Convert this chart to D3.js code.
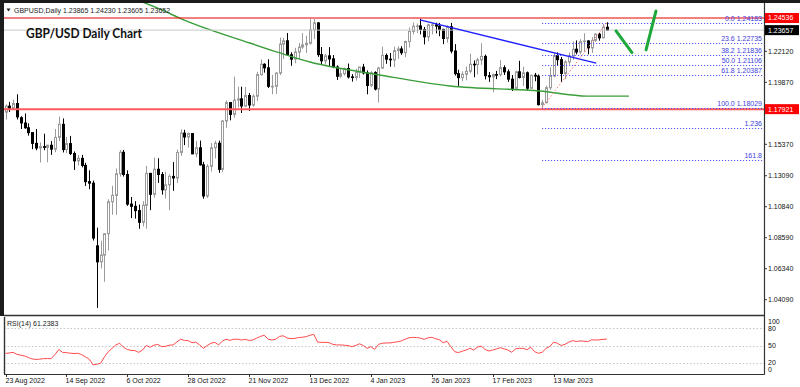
<!DOCTYPE html>
<html>
<head>
<meta charset="utf-8">
<script src="https://cdn.jsdelivr.net/npm/d3@7"></script>
<style>
  body { margin: 0; background: #fff; }
  svg { display: block; font-family: "Liberation Sans", Arial, sans-serif; }
</style>
</head>
<body>
<svg id="chart" width="800" height="387"></svg>
<script>
// daily bars, 23 Aug 2022 .. 31 Mar 2023
var dates = [
'2022-08-23','2022-08-24','2022-08-25','2022-08-26','2022-08-29','2022-08-30','2022-08-31',
'2022-09-01','2022-09-02','2022-09-05','2022-09-06','2022-09-07','2022-09-08','2022-09-09','2022-09-12','2022-09-13','2022-09-14','2022-09-15','2022-09-16','2022-09-19','2022-09-20','2022-09-21','2022-09-22','2022-09-23','2022-09-26','2022-09-27','2022-09-28','2022-09-29','2022-09-30',
'2022-10-03','2022-10-04','2022-10-05','2022-10-06','2022-10-07','2022-10-10','2022-10-11','2022-10-12','2022-10-13','2022-10-14','2022-10-17','2022-10-18','2022-10-19','2022-10-20','2022-10-21','2022-10-24','2022-10-25','2022-10-26','2022-10-27','2022-10-28','2022-10-31',
'2022-11-01','2022-11-02','2022-11-03','2022-11-04','2022-11-07','2022-11-08','2022-11-09','2022-11-10','2022-11-11','2022-11-14','2022-11-15','2022-11-16','2022-11-17','2022-11-18','2022-11-21','2022-11-22','2022-11-23','2022-11-24','2022-11-25','2022-11-28','2022-11-29','2022-11-30',
'2022-12-01','2022-12-02','2022-12-05','2022-12-06','2022-12-07','2022-12-08','2022-12-09','2022-12-12','2022-12-13','2022-12-14','2022-12-15','2022-12-16','2022-12-19','2022-12-20','2022-12-21','2022-12-22','2022-12-23','2022-12-26','2022-12-27','2022-12-28','2022-12-29','2022-12-30',
'2023-01-02','2023-01-03','2023-01-04','2023-01-05','2023-01-06','2023-01-09','2023-01-10','2023-01-11','2023-01-12','2023-01-13','2023-01-16','2023-01-17','2023-01-18','2023-01-19','2023-01-20','2023-01-23','2023-01-24','2023-01-25','2023-01-26','2023-01-27','2023-01-30','2023-01-31',
'2023-02-01','2023-02-02','2023-02-03','2023-02-06','2023-02-07','2023-02-08','2023-02-09','2023-02-10','2023-02-13','2023-02-14','2023-02-15','2023-02-16','2023-02-17','2023-02-20','2023-02-21','2023-02-22','2023-02-23','2023-02-24','2023-02-27','2023-02-28',
'2023-03-01','2023-03-02','2023-03-03','2023-03-06','2023-03-07','2023-03-08','2023-03-09','2023-03-10','2023-03-13','2023-03-14','2023-03-15','2023-03-16','2023-03-17','2023-03-20','2023-03-21','2023-03-22','2023-03-23','2023-03-24','2023-03-27','2023-03-28','2023-03-29','2023-03-30','2023-03-31'
];

var opens = [
1.1770,1.1814,1.1799,1.1833,1.1730,1.1692,1.1657,1.1622,1.1544,1.1510,
1.1520,1.1515,1.1530,1.1502,1.1587,1.1682,1.1499,1.1542,1.1470,1.1417,
1.1435,1.1384,1.1266,1.1255,1.0800,1.0684,1.0733,1.0888,1.1120,1.1166,
1.1323,1.1479,1.1318,1.1103,1.1087,1.1056,1.0971,1.1094,1.1326,1.1174,
1.1356,1.1318,1.1207,1.1243,1.1304,1.1293,1.1478,1.1618,1.1590,1.1615,
1.1468,1.1512,1.1388,1.1162,1.1377,1.1512,1.1545,1.1355,1.1706,1.1840,
1.1754,1.1858,1.1867,1.1815,1.1891,1.1822,1.1886,1.2043,1.2118,1.2092,
1.1958,1.1958,1.2054,1.2264,1.2288,1.2187,1.2155,1.2207,1.2243,1.2259,
1.2270,1.2368,1.2418,1.2188,1.2143,1.2179,1.2157,1.2098,1.2031,1.2049,
1.2087,1.2026,1.2022,1.2060,1.2097,1.2055,1.1964,1.2057,1.1938,1.2090,
1.2182,1.2155,1.2150,1.2217,1.2229,1.2202,1.2283,1.2356,1.2394,1.2396,
1.2370,1.2317,1.2404,1.2404,1.2395,1.2371,1.2305,1.2390,1.2214,1.2050,
1.2021,1.2045,1.2067,1.2118,1.2116,1.2150,1.2175,1.2035,1.2027,1.2043,
1.2042,1.2093,1.2063,1.2010,1.1943,1.2063,1.2022,1.2056,1.1944,1.2038,
1.2032,1.1825,1.1839,1.1948,1.2033,1.2180,1.2151,1.2051,1.2135,1.2178,
1.2227,1.2207,1.2282,1.2287,1.2237,1.2291,1.2336,1.2310,1.23865
];
var highs = [
1.1827,1.1845,1.1861,1.1900,1.1741,1.1761,1.1689,1.1624,1.1648,1.1550,
1.1614,1.1534,1.1560,1.1648,1.1738,1.1725,1.1590,1.1598,1.1485,1.1460,
1.1460,1.1403,1.1348,1.1274,1.0932,1.0837,1.0889,1.1138,1.1236,1.1361,
1.1495,1.1496,1.1348,1.1155,1.1124,1.1100,1.1125,1.1380,1.1330,1.1440,
1.1436,1.1336,1.1338,1.1320,1.1408,1.1499,1.1646,1.1642,1.1622,1.1616,
1.1562,1.1564,1.1410,1.1392,1.1546,1.1563,1.1564,1.1713,1.1855,1.1840,
1.2028,1.1954,1.1955,1.1953,1.1910,1.1900,1.2062,1.2153,1.2125,1.2154,
1.2040,1.2060,1.2311,1.2310,1.2345,1.2205,1.2237,1.2272,1.2344,1.2325,
1.2445,1.2446,1.2424,1.2243,1.2193,1.2242,1.2185,1.2110,1.2086,1.2094,
1.2123,1.2046,1.2085,1.2100,1.2121,1.2073,1.2067,1.2067,1.2100,1.2245,
1.2196,1.2200,1.2245,1.2248,1.2249,1.2290,1.2385,1.2421,1.2412,1.2448,
1.2389,1.2412,1.2417,1.2420,1.2418,1.2375,1.2401,1.2418,1.2264,1.2078,
1.2067,1.2102,1.2194,1.2146,1.2165,1.2270,1.2188,1.2062,1.2050,1.2070,
1.2148,1.2110,1.2080,1.2040,1.2071,1.2143,1.2100,1.2065,1.2040,1.2055,
1.2044,1.1860,1.1962,1.2095,1.2203,1.2204,1.2171,1.2147,1.2203,1.2284,
1.2291,1.2300,1.2343,1.2293,1.2314,1.2344,1.2346,1.2410,1.24230
];
var lows = [
1.1717,1.1771,1.1787,1.1717,1.1648,1.1650,1.1600,1.1502,1.1494,1.1405,
1.1494,1.1407,1.1460,1.1480,1.1560,1.1478,1.1473,1.1458,1.1351,1.1383,
1.1370,1.1235,1.1211,1.0839,1.0350,1.0636,1.0539,1.0767,1.1026,1.1025,
1.1303,1.1303,1.1090,1.1002,1.0998,1.0924,1.0941,1.0924,1.1059,1.1150,
1.1257,1.1172,1.1145,1.1059,1.1199,1.1257,1.1453,1.1531,1.1513,1.1465,
1.1443,1.1383,1.1142,1.1148,1.1340,1.1435,1.1330,1.1335,1.1656,1.1711,
1.1730,1.1805,1.1764,1.1807,1.1779,1.1810,1.1850,1.2035,1.2057,1.1946,
1.1900,1.1902,1.2040,1.2156,1.2180,1.2107,1.2126,1.2157,1.2230,1.2200,
1.2260,1.2300,1.2172,1.2118,1.2115,1.2104,1.2090,1.2004,1.2018,1.2036,
1.2015,1.1992,1.2000,1.2019,1.2043,1.1900,1.1952,1.1928,1.1841,1.2083,
1.2121,1.2100,1.2098,1.2157,1.2186,1.2170,1.2240,1.2335,1.2345,1.2335,
1.2262,1.2284,1.2335,1.2342,1.2322,1.2264,1.2275,1.2197,1.2036,1.1961,
1.1995,1.2001,1.2052,1.2024,1.2044,1.2114,1.2008,1.1990,1.1915,1.2010,
1.2030,1.2040,1.1990,1.1924,1.1930,1.2015,1.1960,1.1925,1.1938,1.1995,
1.1818,1.1803,1.1835,1.1932,1.2024,1.2110,1.1990,1.2009,1.2115,1.2150,
1.2190,1.2190,1.2205,1.2190,1.2200,1.2280,1.2289,1.2305,1.23605
];
var closes = [
1.1814,1.1799,1.1833,1.1736,1.1692,1.1657,1.1622,1.1544,1.1510,1.1520,
1.1515,1.1530,1.1502,1.1587,1.1682,1.1499,1.1542,1.1470,1.1417,1.1435,
1.1384,1.1266,1.1255,1.0857,1.0684,1.0733,1.0888,1.1120,1.1166,1.1323,
1.1479,1.1318,1.1103,1.1087,1.1056,1.0971,1.1094,1.1326,1.1174,1.1356,
1.1318,1.1207,1.1243,1.1304,1.1293,1.1478,1.1618,1.1590,1.1615,1.1468,
1.1512,1.1388,1.1162,1.1377,1.1512,1.1545,1.1355,1.1706,1.1840,1.1754,
1.1858,1.1867,1.1815,1.1891,1.1822,1.1886,1.2043,1.2118,1.2092,1.1958,
1.1958,1.2054,1.2264,1.2288,1.2187,1.2155,1.2207,1.2243,1.2259,1.2270,
1.2368,1.2418,1.2188,1.2143,1.2179,1.2157,1.2098,1.2031,1.2049,1.2087,
1.2026,1.2022,1.2060,1.2097,1.2055,1.1964,1.2057,1.1938,1.2090,1.2182,
1.2155,1.2150,1.2217,1.2229,1.2202,1.2283,1.2356,1.2394,1.2396,1.2370,
1.2317,1.2404,1.2404,1.2395,1.2371,1.2305,1.2390,1.2214,1.2050,1.2021,
1.2045,1.2067,1.2118,1.2116,1.2150,1.2175,1.2035,1.2027,1.2043,1.2042,
1.2093,1.2063,1.2010,1.1943,1.2063,1.2022,1.2056,1.1944,1.2038,1.2032,
1.1825,1.1839,1.1948,1.2033,1.2180,1.2151,1.2051,1.2135,1.2178,1.2227,
1.2207,1.2282,1.2287,1.2237,1.2291,1.2336,1.2310,1.2387,1.23652
];

var rsiValues = [
36,37,38,34.5,33,31.6,29,26.5,25.5,26,27,27,27,34,43,38,37.5,36.5,36,36.3,
34,30,26,16,17,19,30,39,45,51,54,47,43,41.5,41,38,42,50,47,50.5,
52,48,48.5,50.5,51,56,61,59,58.5,55,56,51,45,50,54,55.6,51,58,61,59,
61,61,59.6,60.8,59,59.6,63,66,68,61,59.6,61,66,67,63,62,62.5,64,64.5,65.5,
68,69.6,56,55.5,55.6,55,52,51,51,50.5,49.7,48,50,53,50,45,48,43.3,52,54,
54.4,54.5,55.5,56.7,58,61,63.5,64.3,64,63,60.8,63.5,64.3,62,60,55,57.3,48,39.2,37.5,
40,42,45,42.1,47,49,43,40.4,42,43.9,46.2,44,42.1,38,44,45,45,42.5,47,39.2,
36.3,38,45,48,56,54,50,52,56,58.5,57,58,57.5,56.7,60,59.6,60,60.8,61.2383
];

// moving average (bar index, price)
var maIdx = [35, 41.1, 45.9, 64.2, 72.1, 80, 98.4, 116.8, 140.4, 152.8, 163.8];
var maVals = [1.2580, 1.2512, 1.2451, 1.2272, 1.2200, 1.2134, 1.2040, 1.1960, 1.1924, 1.1887, 1.1887];

// horizontal levels and drawn objects
var redLevels = [1.24536, 1.17921];
var bidPrice = 1.23657;
var trendIdx = [108.9, 155.2];
var trendVals = [1.2440, 1.2126];
var fibIdx = [141, 158];
var fibPct = ['0.0', '23.6', '38.2', '50.0', '61.8', '100.0', '1.236', '161.8'];
var fibVals = [1.24183, 1.22735, 1.21836, 1.21106, 1.20387, 1.18029, 1.16577, 1.14226];
var arrowIdx = [[160.4, 164.6], [168.3, 170.9]];
var arrowVals = [[1.2360, 1.2203], [1.2222, 1.2504]];

var priceTicks = [1.22120, 1.19870, 1.15370, 1.13090, 1.10840, 1.08590, 1.06340, 1.04090];
var rsiTicks = [100, 80, 50, 20, 0];
var rsiLevels = [80, 50, 20];

(function () {
var svg = d3.select('#chart');
var W = +svg.attr('width');
var H = +svg.attr('height');

var pane = {l: 4, r: 764, t: 3, b: 316};
var rsiPane = {t: 317, b: 374};
var barStep = 3.806;

var x = d3.scaleLinear().domain([0, 199]).range([5.5, 5.5 + 199 * barStep]);
var y = d3.scaleLinear().domain([1.0291, 1.2548]).range([316, 5]);
var yRsi = d3.scaleLinear().domain([0, 100]).range([rsiPane.b, rsiPane.t]);
var fmt5 = d3.format('.5f');
var parseDate = d3.timeParse('%Y-%m-%d');
var fmtDate = d3.timeFormat('%-d %b %Y');

svg.append('rect').attr('width', W).attr('height', H).attr('fill', '#fff');

var defs = svg.append('defs');
defs.append('clipPath').attr('id', 'clipMain').append('rect')
  .attr('x', pane.l).attr('y', pane.t).attr('width', pane.r - pane.l).attr('height', pane.b - pane.t);
defs.append('clipPath').attr('id', 'clipRsi').append('rect')
  .attr('x', pane.l).attr('y', rsiPane.t).attr('width', pane.r - pane.l).attr('height', rsiPane.b - rsiPane.t);

var mainG = svg.append('g').attr('clip-path', 'url(#clipMain)');
var rsiG = svg.append('g').attr('clip-path', 'url(#clipRsi)');
var axisG = svg.append('g').attr('class', 'axis');

// candles
var bars = d3.range(dates.length).map(function (i) {
  return {i: i, o: opens[i], h: highs[i], l: lows[i], c: closes[i]};
});

var candle = mainG.selectAll('.candle').data(bars).enter()
  .append('g').attr('class', 'candle');

candle.append('line')
  .attr('x1', function (d) { return Math.round(x(d.i)) + 0.5; })
  .attr('x2', function (d) { return Math.round(x(d.i)) + 0.5; })
  .attr('y1', function (d) { return y(d.h); })
  .attr('y2', function (d) { return y(d.l); })
  .attr('stroke', function (d) { return d.c >= d.o ? '#9a9a9a' : '#000'; })
  .attr('stroke-width', 1);

candle.append('rect')
  .attr('x', function (d) { return Math.round(x(d.i)) - 0.5; })
  .attr('width', 2)
  .attr('y', function (d) { return y(Math.max(d.o, d.c)); })
  .attr('height', function (d) { return Math.max(0.6, Math.abs(y(d.o) - y(d.c))); })
  .attr('fill', function (d) { return d.c >= d.o ? '#fff' : '#000'; })
  .attr('stroke', function (d) { return d.c >= d.o ? '#9a9a9a' : '#000'; })
  .attr('stroke-width', 1);

// moving average
var maLine = d3.line()
  .x(function (d) { return x(d[0]); })
  .y(function (d) { return y(d[1]); })
  .curve(d3.curveMonotoneX);
mainG.append('path')
  .datum(maIdx.map(function (d, i) { return [d, maVals[i]]; }))
  .attr('d', maLine)
  .attr('fill', 'none')
  .attr('stroke', '#3a9e3a')
  .attr('stroke-width', 1.4);

// bid line and red levels
mainG.append('line')
  .attr('x1', pane.l).attr('x2', pane.r)
  .attr('y1', y(bidPrice)).attr('y2', y(bidPrice))
  .attr('stroke', '#c8c8c8').attr('stroke-width', 1);

mainG.selectAll('.red-level').data(redLevels).enter()
  .append('line')
  .attr('class', 'red-level')
  .attr('x1', pane.l).attr('x2', pane.r)
  .attr('y1', function (d) { return y(d); })
  .attr('y2', function (d) { return y(d); })
  .attr('stroke', function (d, i) { return i === 0 ? '#e80000' : '#ff5a5a'; })
  .attr('stroke-width', function (d, i) { return i === 0 ? 1.2 : 2; });

// trend line
mainG.append('line')
  .attr('x1', x(trendIdx[0])).attr('y1', y(trendVals[0]))
  .attr('x2', x(trendIdx[1])).attr('y2', y(trendVals[1]))
  .attr('stroke', '#1f1fff').attr('stroke-width', 1.3);

// fibonacci
mainG.selectAll('.fib').data(fibVals).enter()
  .append('line')
  .attr('class', 'fib')
  .attr('x1', x(fibIdx[0])).attr('x2', pane.r)
  .attr('y1', function (d) { return Math.round(y(d)) + 0.5; })
  .attr('y2', function (d) { return Math.round(y(d)) + 0.5; })
  .attr('stroke', '#3a3aff').attr('stroke-width', 1)
  .attr('stroke-dasharray', '1,2');

mainG.append('line')
  .attr('x1', x(fibIdx[0])).attr('y1', y(fibVals[5]))
  .attr('x2', x(fibIdx[1])).attr('y2', y(fibVals[0]))
  .attr('stroke', '#ff7a7a').attr('stroke-width', 1)
  .attr('stroke-dasharray', '1.5,2');

mainG.selectAll('.fib-label').data(fibVals).enter()
  .append('text')
  .attr('class', 'fib-label')
  .attr('x', pane.r - 2)
  .attr('y', function (d) { return y(d) - 2; })
  .attr('text-anchor', 'end')
  .attr('font-size', 7)
  .attr('fill', '#3d3de0')
  .text(function (d, i) {
    return i < 6 ? fibPct[i] + ' ' + fmt5(d) : fibPct[i];
  });

// hand-drawn arrows
var arrowLine = d3.line()
  .x(function (d) { return x(d[0]); })
  .y(function (d) { return y(d[1]); });
svg.selectAll('.arrow').data(arrowIdx).enter()
  .append('path')
  .attr('class', 'arrow')
  .attr('d', function (d, k) {
    return arrowLine(d.map(function (v, j) { return [v, arrowVals[k][j]]; }));
  })
  .attr('stroke', '#1ea83c').attr('stroke-width', 3)
  .attr('stroke-linecap', 'round').attr('fill', 'none');

// title and header
svg.append('text')
  .attr('x', 26).attr('y', 38)
  .attr('font-family', 'Lato, "Open Sans", sans-serif')
  .attr('font-weight', 700).attr('font-size', 13)
  .attr('textLength', 116).attr('lengthAdjust', 'spacingAndGlyphs')
  .attr('fill', '#111')
  .text('GBP/USD Daily Chart');

var last = bars[bars.length - 1];
svg.append('path')
  .attr('d', 'M6.5,8.5 L10.5,8.5 L8.5,11.5 Z')
  .attr('fill', '#222');
svg.append('text')
  .attr('x', 14).attr('y', 12.5)
  .attr('font-size', 7).attr('fill', '#222')
  .text('GBPUSD,Daily  ' + [last.o, last.h, last.l, last.c].map(fmt5).join(' '));

// RSI pane
rsiG.selectAll('.rsi-level').data(rsiLevels).enter()
  .append('line')
  .attr('class', 'rsi-level')
  .attr('x1', pane.l).attr('x2', pane.r)
  .attr('y1', function (d) { return Math.round(yRsi(d)) + 0.5; })
  .attr('y2', function (d) { return Math.round(yRsi(d)) + 0.5; })
  .attr('stroke', '#c4c4c4').attr('stroke-dasharray', '1.5,2');

rsiG.append('path')
  .datum(rsiValues)
  .attr('d', d3.line()
    .x(function (d, i) { return x(i); })
    .y(function (d) { return yRsi(d); }))
  .attr('fill', 'none')
  .attr('stroke', '#ff4b4b')
  .attr('stroke-width', 1);

svg.append('text')
  .attr('x', 7).attr('y', 325.5)
  .attr('font-size', 7).attr('fill', '#222')
  .text('RSI(14) ' + d3.format('.4f')(rsiValues[rsiValues.length - 1]));

// frames
svg.append('rect').attr('x', 0).attr('y', 0).attr('width', W).attr('height', 3).attr('fill', '#1c1c1c');
svg.append('rect').attr('x', 0).attr('y', 0).attr('width', 4).attr('height', pane.b).attr('fill', '#1c1c1c');
axisG.append('line').attr('x1', pane.l).attr('x2', pane.r).attr('y1', 315.5).attr('y2', 315.5)
  .attr('stroke', '#333').attr('stroke-width', 1.6);
axisG.append('line').attr('x1', 4.5).attr('x2', 4.5).attr('y1', rsiPane.t).attr('y2', rsiPane.b)
  .attr('stroke', '#333').attr('stroke-width', 1.4);
axisG.append('line').attr('x1', pane.l).attr('x2', pane.r + 0.5).attr('y1', rsiPane.b + 0.5).attr('y2', rsiPane.b + 0.5)
  .attr('stroke', '#333').attr('stroke-width', 1.2);
axisG.append('line').attr('x1', pane.r + 0.5).attr('x2', pane.r + 0.5).attr('y1', 3).attr('y2', rsiPane.b + 0.5)
  .attr('stroke', '#333').attr('stroke-width', 1.2);

// price axis
var priceTick = axisG.selectAll('.price-tick').data(priceTicks).enter()
  .append('g').attr('class', 'price-tick')
  .attr('transform', function (d) { return 'translate(' + pane.r + ',' + y(d) + ')'; });
priceTick.append('line').attr('x1', 0).attr('x2', 3).attr('stroke', '#333');
priceTick.append('text')
  .attr('x', 4).attr('dy', '0.35em')
  .attr('font-size', 7).attr('fill', '#111')
  .text(function (d) { return fmt5(d); });

var boxes = [{v: redLevels[0], fill: '#ff0000'}, {v: bidPrice, fill: '#000'}, {v: redLevels[1], fill: '#ff0000'}];
var box = axisG.selectAll('.price-box').data(boxes).enter()
  .append('g').attr('class', 'price-box')
  .attr('transform', function (d) { return 'translate(' + (pane.r + 1) + ',' + y(d.v) + ')'; });
box.append('rect').attr('x', 0).attr('y', -5).attr('width', 34).attr('height', 10)
  .attr('fill', function (d) { return d.fill; });
box.append('text')
  .attr('x', 3).attr('dy', '0.35em')
  .attr('font-size', 7).attr('fill', '#fff')
  .text(function (d) { return fmt5(d.v); });

// RSI axis
axisG.selectAll('.rsi-tick').data(rsiTicks).enter()
  .append('text')
  .attr('class', 'rsi-tick')
  .attr('x', pane.r + 4)
  .attr('y', function (d) { return d === 100 ? yRsi(d) + 4.5 : d === 0 ? yRsi(d) - 4 : yRsi(d); })
  .attr('dy', '0.35em')
  .attr('font-size', 7).attr('fill', '#111')
  .text(function (d) { return d; });

// date axis
var dateIdx = d3.range(0, dates.length, 16);
var dateTick = axisG.selectAll('.date-tick').data(dateIdx).enter()
  .append('g').attr('class', 'date-tick')
  .attr('transform', function (d) { return 'translate(' + (Math.round(x(d)) + 0.5) + ',0)'; });
dateTick.append('line').attr('y1', rsiPane.b).attr('y2', rsiPane.b + 3).attr('stroke', '#333');
dateTick.append('text')
  .attr('x', -1).attr('y', 383)
  .attr('font-size', 7).attr('fill', '#111')
  .text(function (d) { return fmtDate(parseDate(dates[d])); });
})();
</script>
</body>
</html>
